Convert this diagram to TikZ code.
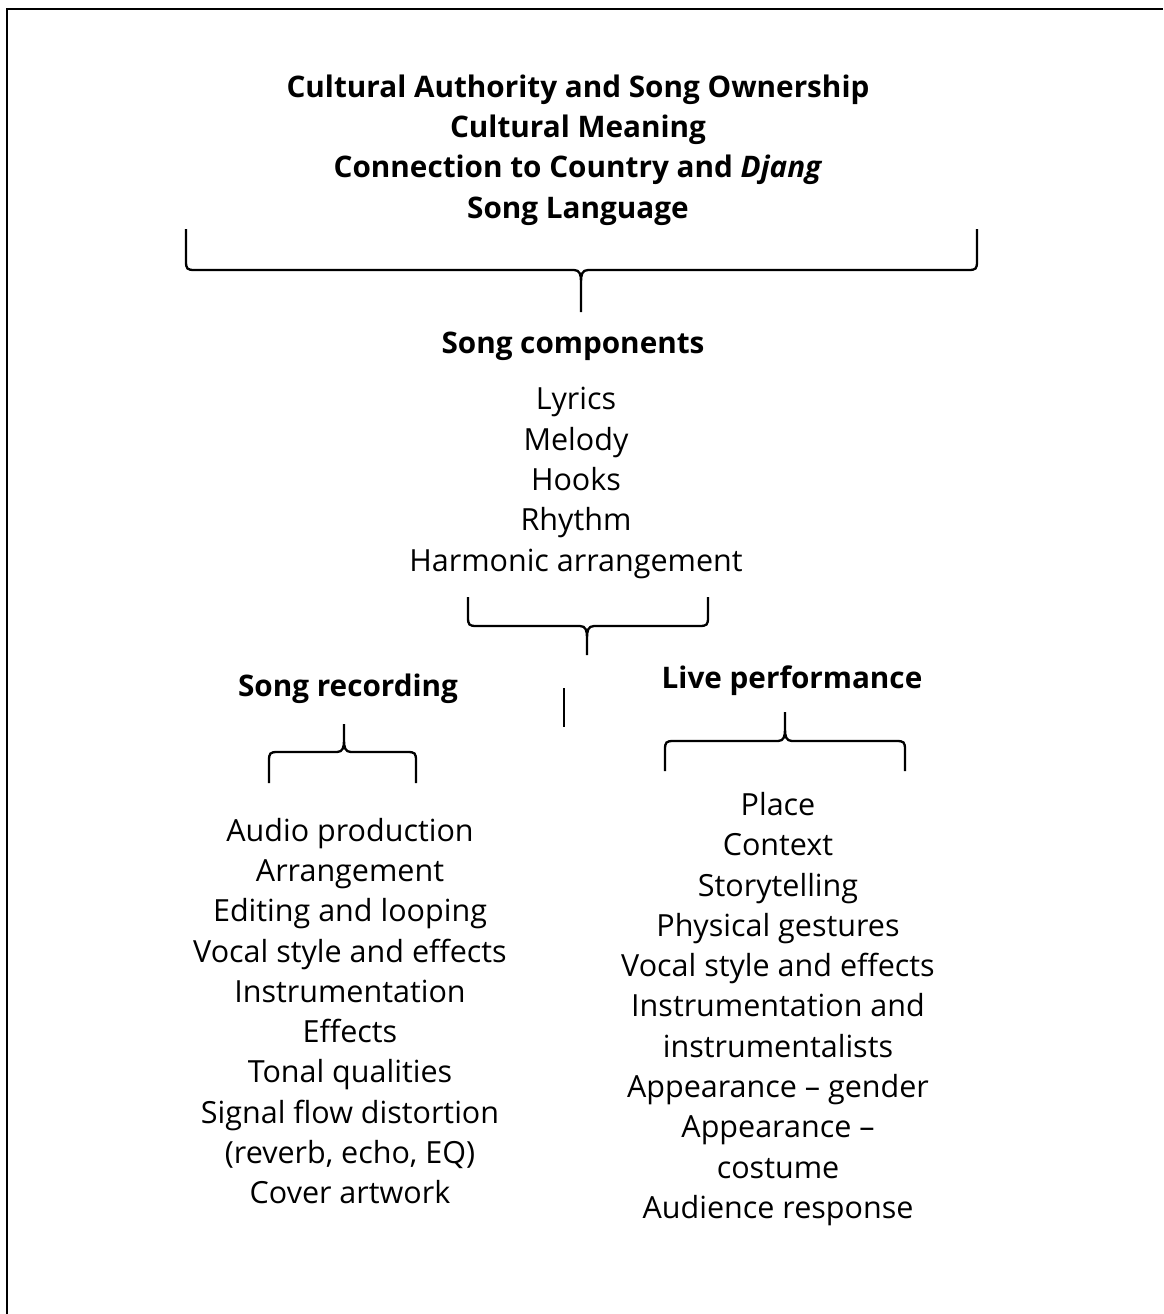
\documentclass[tikz,border=0pt]{standalone}
\usepackage{fontspec}
\setmainfont{Open Sans}
% curly brace: #1 left x, #2 right x, #3 y of the free ends, #4 y of the bar,
% #5 x of the tip, #6 y of the tip, #7 direction of the tip (1 = down, -1 = up)
\newcommand\curlybrace[7]{%
  \draw[bracestyle]
    (#1,#3) -- (#1,#4-#7*9) .. controls (#1,#4-#7*1) and (#1+1,#4) .. (#1+9,#4)
    -- (#5-7,#4) .. controls (#5-1,#4) and (#5,#4+#7*5) .. (#5,#4+#7*12) -- (#5,#6)
    (#5,#4+#7*12) .. controls (#5,#4+#7*5) and (#5+1,#4) .. (#5+7,#4)
    -- (#2-9,#4) .. controls (#2-1,#4) and (#2,#4-#7*1) .. (#2,#4-#7*9) -- (#2,#3);}
\begin{document}
\begin{tikzpicture}[x=1pt,y=-1pt,
  bracestyle/.style={line width=2.3pt, line join=round},
  txt/.style={align=center, inner sep=0pt, font=\fontsize{30.5}{40.3}\selectfont},
  head/.style={align=center, inner sep=0pt, font=\fontsize{29.7}{40.3}\selectfont\bfseries}]
\useasboundingbox (0,0) rectangle (1163,1314);
% frame (top and left edges)
\draw[line width=2pt] (7,1314) -- (7,9) -- (1163,9);

% overarching cultural layer
\node[head] (culture) at (578,150) {Cultural Authority and Song Ownership\\
  Cultural Meaning\\ Connection to Country and \textit{Djang}\\ Song Language};
\curlybrace{186}{977}{229}{270}{581}{312}{1}

% song components
\node[head] (comp) at (573,346) {Song components};
\node[txt] (complist) at (576,483) {Lyrics\\ Melody\\ Hooks\\ Rhythm\\ Harmonic arrangement};
\curlybrace{468}{708}{597}{626}{587}{655}{1}

% divider between the two branches
\coordinate (divtop) at (564,688);
\coordinate (divbot) at (564,727);
\draw[line width=1.6pt] (divtop) -- (divbot);

% song recording branch
\node[head] (rec) at (348,689) {Song recording};
\curlybrace{269}{416}{783}{752}{344}{724}{-1}
\node[txt] (reclist) at (350,1011) {Audio production\\ Arrangement\\ Editing and looping\\
  Vocal style and effects\\ Instrumentation\\ Effects\\ Tonal qualities\\
  Signal flow distortion\\ (reverb, echo, EQ)\\ Cover artwork};

% live performance branch
\node[head] (live) at (792,681) {Live performance};
\curlybrace{665}{905}{771}{741}{785}{712}{-1}
\node[txt] (livelist) at (778,1009) {Place\\ Context\\ Storytelling\\ Physical gestures\\
  Vocal style and effects\\ Instrumentation and\\ instrumentalists\\
  Appearance -- gender\\ Appearance --\\ costume\\ Audience response};
\end{tikzpicture}
\end{document}
